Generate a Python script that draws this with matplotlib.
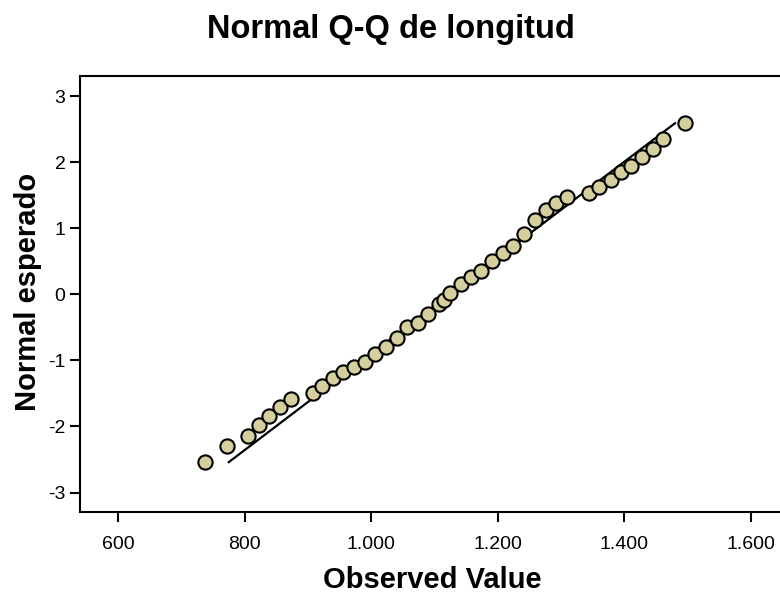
import matplotlib
matplotlib.use("Agg")
import matplotlib.pyplot as plt
from matplotlib.ticker import FuncFormatter

plt.rcParams['font.family'] = ['Liberation Sans', 'DejaVu Sans']
plt.rcParams['axes.unicode_minus'] = False

observed = [738, 772, 806, 823, 839, 856, 873, 908, 923, 940,
            956, 973, 990, 1006, 1024, 1040, 1057, 1074, 1090, 1107,
            1115, 1124, 1142, 1158, 1173, 1191, 1208, 1224, 1242, 1259,
            1276, 1292, 1309, 1344, 1360, 1378, 1394, 1410, 1428, 1445,
            1461, 1495]
expected = [-2.54, -2.29, -2.15, -1.98, -1.84, -1.70, -1.58, -1.50, -1.39, -1.27,
            -1.17, -1.10, -1.02, -0.90, -0.80, -0.66, -0.50, -0.44, -0.30, -0.15,
            -0.09, 0.02, 0.15, 0.26, 0.36, 0.50, 0.62, 0.73, 0.91, 1.13,
            1.28, 1.39, 1.47, 1.53, 1.62, 1.73, 1.85, 1.95, 2.08, 2.20,
            2.35, 2.59]

# reference line (mean / sd of the sample)
line_mean = 1124
line_sd = 137.4

x_ticks = [600, 800, 1000, 1200, 1400, 1600]
y_ticks = [-3, -2, -1, 0, 1, 2, 3]


def thousands(v, pos):
    return f"{int(v):,}".replace(",", ".")


fig = plt.figure(figsize=(7.8, 5.94), dpi=100)
ax = fig.add_axes([0.1026, 0.1386, 0.909, 0.734])

# reference line over the range of expected scores
y0, y1 = min(expected), max(expected)
ax.plot([line_mean + line_sd * y0, line_mean + line_sd * y1], [y0, y1],
        color='black', linewidth=1.6, zorder=2)

ax.scatter(observed, expected, s=105, facecolor='#d5cf9d', edgecolor='black',
           linewidth=1.5, zorder=3, clip_on=False)

ax.set_xlim(540, 1660)
ax.set_ylim(-3.29, 3.31)
ax.set_xticks(x_ticks)
ax.set_yticks(y_ticks)
ax.xaxis.set_major_formatter(FuncFormatter(thousands))
ax.tick_params(direction='out', length=7.5, width=1.5, labelsize=14)
ax.tick_params(axis='x', pad=10)
ax.tick_params(axis='y', pad=3)

for s in ax.spines.values():
    s.set_linewidth(1.5)

# axis titles and chart title placed like the SPSS output
fig.text(0.5545, 0.01, 'Observed Value', fontsize=21, fontweight='bold',
         ha='center', va='baseline')
fig.text(0.036, 0.508, 'Normal esperado', fontsize=21, fontweight='bold',
         ha='center', va='center', rotation=90)
fig.text(0.501, 0.936, 'Normal Q-Q de longitud', fontsize=23.5, fontweight='bold',
         ha='center', va='baseline')

fig.savefig('out.png', dpi=100)
